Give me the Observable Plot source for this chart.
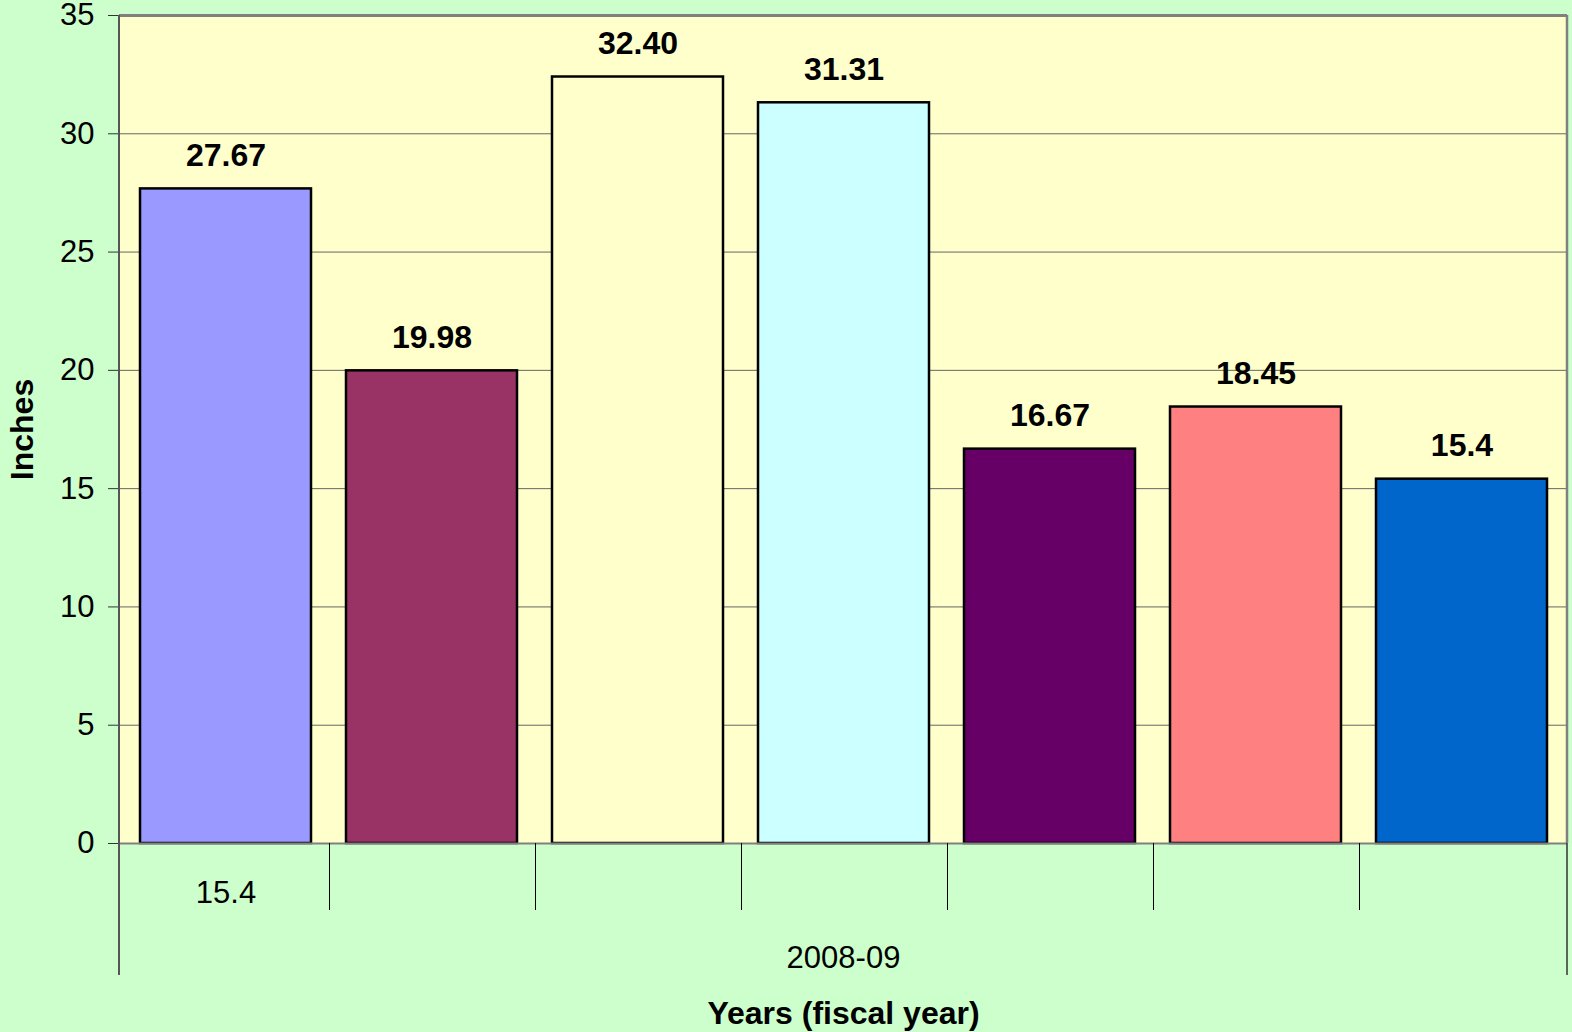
<!DOCTYPE html>
<html>
<head>
<meta charset="utf-8">
<script src="https://cdn.jsdelivr.net/npm/d3@7"></script>
<script src="https://cdn.jsdelivr.net/npm/@observablehq/plot@0.6"></script>
<style>
  html, body { margin: 0; padding: 0; background: #CCFFCC; }
  #chart svg { display: block; }
</style>
</head>
<body>
<div id="chart"></div>
<script>
// ---- data ----
const categoryLabels = ["15.4", "", "", "", "", "", ""];
const groupLabel = "2008-09";
const values = [27.67, 19.98, 32.40, 31.31, 16.67, 18.45, 15.4];
const valueLabels = ["27.67", "19.98", "32.40", "31.31", "16.67", "18.45", "15.4"];
const barColors = ["#9999FF", "#993366", "#FFFFCC", "#CCFFFF", "#660066", "#FF8080", "#0066CC"];
const yTicks = [0, 5, 10, 15, 20, 25, 30, 35];
const yGridTicks = [5, 10, 15, 20, 25, 30];

const data = values.map((v, i) => ({i, value: v, label: valueLabels[i], cat: categoryLabels[i], color: barColors[i]}));

const font = "'Liberation Sans', Arial, sans-serif";

// category separators and outer frame lines drawn from the scales
function separators(index, scales, values_, dimensions) {
  const {width, height, marginLeft, marginRight, marginTop, marginBottom} = dimensions;
  const x = scales.x;
  const step = x.step ? x.step() : (width - marginLeft - marginRight) / categoryLabels.length;
  const bw = x.bandwidth ? x.bandwidth() : step * 0.83;
  const y0 = height - marginBottom;
  const g = d3.create("svg:g");
  for (let k = 1; k < categoryLabels.length; k++) {
    const xp = Math.round(x(k) - (step - bw) / 2) + 0.5;
    g.append("line").attr("x1", xp).attr("x2", xp).attr("y1", y0).attr("y2", y0 + 67)
      .attr("stroke", "#000").attr("stroke-width", 1);
  }
  const xl = marginLeft, xr = width - marginRight;
  g.append("line").attr("x1", xl).attr("x2", xl).attr("y1", marginTop).attr("y2", y0 + 132)
    .attr("stroke", "#555").attr("stroke-width", 2);
  g.append("line").attr("x1", xr).attr("x2", xr).attr("y1", y0).attr("y2", y0 + 132)
    .attr("stroke", "#333").attr("stroke-width", 1.5);
  g.append("line").attr("x1", xr).attr("x2", xr).attr("y1", marginTop).attr("y2", y0)
    .attr("stroke", "#808080").attr("stroke-width", 2.5);
  return g.node();
}

const chart = Plot.plot({
  width: 1572,
  height: 1032,
  marginLeft: 119,
  marginRight: 5,
  marginTop: 15,
  marginBottom: 189,
  style: {background: "#CCFFCC", fontFamily: font, color: "#000"},
  x: {domain: d3.range(categoryLabels.length), paddingInner: 0.17, paddingOuter: 0.085, axis: null},
  y: {domain: [0, 35], axis: null},
  color: {type: "identity"},
  marks: [
    Plot.frame({fill: "#FFFFCC", stroke: null}),
    Plot.ruleY(yGridTicks, {stroke: "#666", strokeWidth: 1}),
    Plot.ruleY([35], {stroke: "#808080", strokeWidth: 3}),
    Plot.barY(data, {x: "i", y: "value", fill: "color", stroke: "#000", strokeWidth: 2.5}),
    Plot.ruleY([0], {stroke: "#808080", strokeWidth: 2}),
    Plot.text(data, {x: "i", y: "value", text: "label", dy: -33, fontSize: 32, fontWeight: "bold", fill: "#000"}),
    Plot.axisY({ticks: yTicks, label: null, tickSize: 11, tickPadding: 14, fontSize: 31, fill: "#000", stroke: "#333", tickFormat: d => String(d)}),
    Plot.text(data, {x: "i", text: "cat", frameAnchor: "bottom", lineAnchor: "middle", dy: 50, fontSize: 31, fill: "#000"}),
    Plot.text([groupLabel], {frameAnchor: "bottom", lineAnchor: "middle", textAnchor: "middle", dy: 115, fontSize: 31, fill: "#000"}),
    Plot.text(["Years (fiscal year)"], {frameAnchor: "bottom", lineAnchor: "middle", textAnchor: "middle", dy: 170, fontSize: 32, fontWeight: "bold", fill: "#000"}),
    Plot.text(["Inches"], {frameAnchor: "left", textAnchor: "middle", lineAnchor: "middle", dx: -97, rotate: -90, fontSize: 32, fontWeight: "bold", fill: "#000"}),
    separators
  ]
});
document.getElementById("chart").appendChild(chart);
</script>
</body>
</html>
